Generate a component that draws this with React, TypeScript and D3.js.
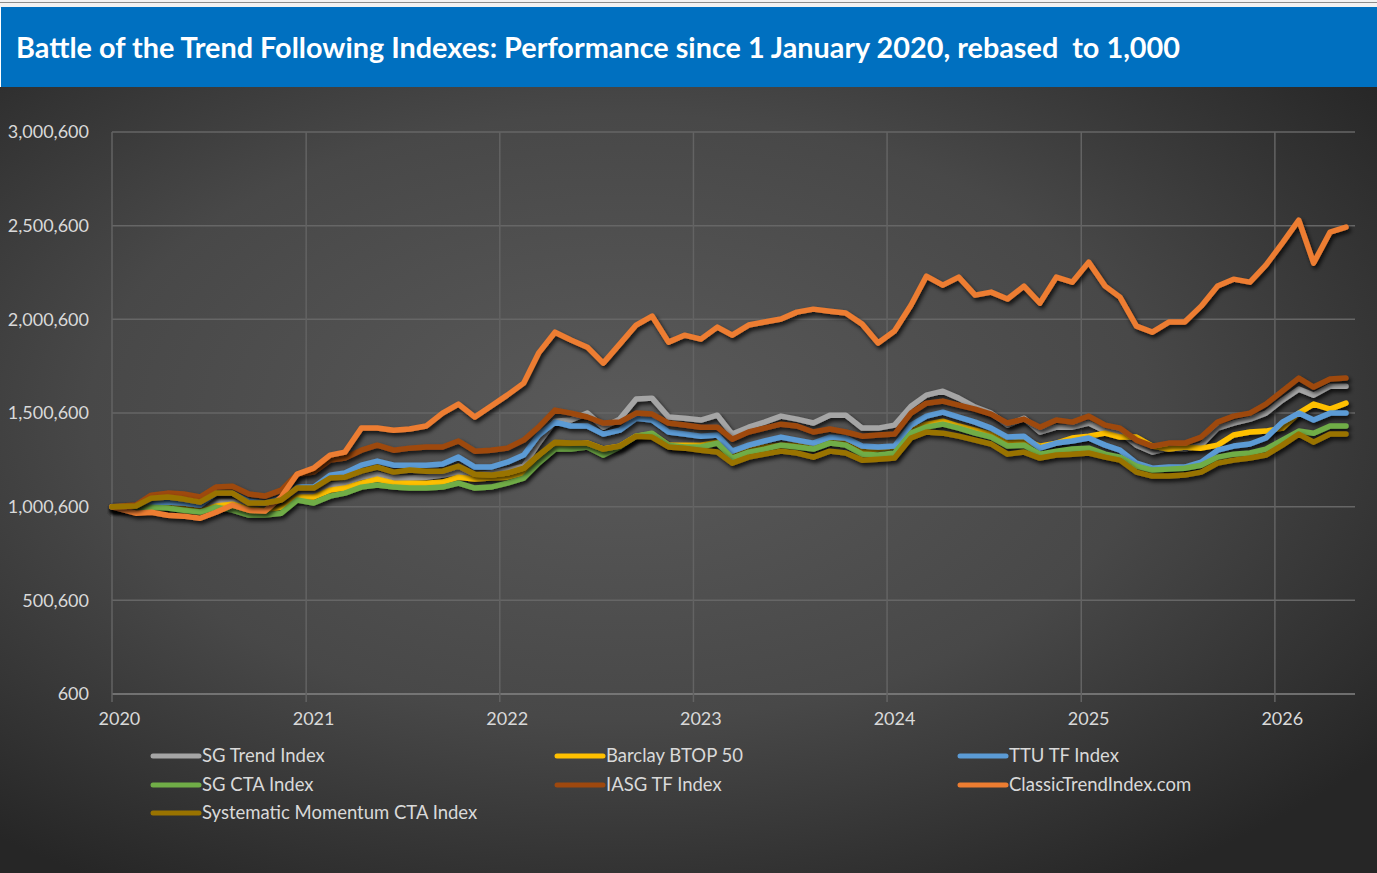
import * as d3 from 'd3';

// values in thousands (1,000 = start), monthly readings, Jan 2020 .. May 2026
const sgTrend = [1000, 1000, 1020, 1020, 1009, 1000, 1030, 1030, 1004, 1004, 1020, 1073, 1073, 1116, 1126, 1158, 1174, 1153,
  1153, 1158, 1169, 1185, 1169, 1180, 1196, 1217, 1340, 1457, 1463, 1500, 1425, 1468, 1575, 1580, 1479, 1473, 1463, 1489,
  1388, 1425, 1452, 1484, 1468, 1447, 1489, 1489, 1420, 1420, 1436, 1537, 1596, 1617, 1580, 1532, 1500, 1436, 1473, 1399,
  1425, 1425, 1447, 1404, 1399, 1329, 1292, 1313, 1308, 1329, 1420, 1447, 1468, 1500, 1569, 1628, 1596, 1644, 1644];
const barclay = [1000, 998, 998, 998, 993, 977, 1004, 1014, 988, 982, 998, 1052, 1052, 1089, 1100, 1126, 1148, 1126,
  1126, 1126, 1132, 1158, 1148, 1153, 1158, 1180, 1249, 1329, 1329, 1340, 1308, 1324, 1377, 1388, 1329, 1329, 1329, 1345,
  1276, 1308, 1319, 1329, 1329, 1319, 1356, 1356, 1302, 1308, 1319, 1409, 1441, 1457, 1431, 1409, 1388, 1340, 1356,
  1324, 1340, 1367, 1377, 1393, 1372, 1372, 1324, 1308, 1319, 1313, 1329, 1383, 1399, 1404, 1420, 1500, 1548, 1521, 1553];
const ttu = [1000, 1004, 1020, 1025, 1020, 1009, 1073, 1073, 1030, 1020, 1046, 1105, 1105, 1169, 1180, 1222, 1244, 1222,
  1222, 1222, 1228, 1265, 1212, 1212, 1238, 1276, 1383, 1452, 1431, 1431, 1388, 1409, 1473, 1463, 1399, 1388, 1377, 1383,
  1297, 1329, 1351, 1372, 1356, 1340, 1372, 1367, 1324, 1319, 1324, 1436, 1484, 1505, 1479, 1452, 1420, 1372, 1377,
  1313, 1340, 1351, 1367, 1329, 1302, 1233, 1206, 1212, 1212, 1238, 1302, 1324, 1335, 1367, 1452, 1500, 1463, 1500, 1500];
const sgCta = [1000, 993, 998, 993, 982, 972, 998, 982, 956, 956, 966, 1036, 1020, 1057, 1073, 1105, 1116, 1105,
  1100, 1100, 1105, 1126, 1100, 1105, 1126, 1153, 1233, 1308, 1308, 1319, 1276, 1319, 1377, 1393, 1329, 1319, 1319, 1340,
  1260, 1292, 1308, 1329, 1319, 1308, 1340, 1329, 1281, 1276, 1287, 1393, 1425, 1441, 1420, 1393, 1372, 1324, 1329,
  1281, 1297, 1308, 1313, 1281, 1265, 1217, 1196, 1201, 1206, 1222, 1265, 1281, 1287, 1308, 1356, 1404, 1393, 1431, 1431];
const iasg = [1000, 1009, 1062, 1073, 1068, 1052, 1105, 1110, 1068, 1057, 1089, 1174, 1185, 1249, 1260, 1302, 1329, 1302,
  1313, 1319, 1319, 1351, 1297, 1302, 1313, 1356, 1425, 1516, 1500, 1479, 1447, 1452, 1500, 1495, 1447, 1436, 1425, 1425,
  1361, 1399, 1420, 1441, 1431, 1399, 1415, 1399, 1377, 1383, 1388, 1500, 1553, 1564, 1543, 1521, 1495, 1447, 1468,
  1425, 1463, 1452, 1484, 1436, 1420, 1356, 1324, 1340, 1340, 1372, 1452, 1484, 1500, 1548, 1617, 1687, 1639, 1682, 1687];
const classic = [1000, 966, 971, 955, 950, 939, 971, 1009, 982, 977, 1052, 1174, 1206, 1276, 1292, 1420, 1420, 1409,
  1415, 1431, 1500, 1548, 1479, 1537, 1596, 1660, 1820, 1932, 1890, 1852, 1767, 1868, 1970, 2018, 1879, 1916, 1895, 1959,
  1916, 1970, 1986, 2002, 2039, 2055, 2044, 2034, 1975, 1874, 1938, 2076, 2231, 2183, 2226, 2130, 2146, 2109, 2178,
  2087, 2226, 2199, 2306, 2178, 2119, 1964, 1932, 1986, 1986, 2071, 2178, 2215, 2199, 2290, 2407, 2530, 2301, 2466, 2493];
const sysMomentum = [1000, 1004, 1046, 1052, 1041, 1025, 1073, 1073, 1020, 1020, 1036, 1100, 1100, 1153, 1158, 1190, 1212, 1185,
  1196, 1190, 1190, 1217, 1174, 1169, 1180, 1206, 1276, 1345, 1340, 1340, 1308, 1324, 1377, 1372, 1319, 1313, 1302, 1292,
  1233, 1265, 1281, 1297, 1287, 1265, 1297, 1287, 1249, 1254, 1260, 1367, 1399, 1393, 1377, 1356, 1335, 1281, 1292,
  1260, 1276, 1281, 1287, 1265, 1249, 1185, 1164, 1164, 1169, 1185, 1233, 1249, 1260, 1276, 1329, 1388, 1345, 1388, 1388];

const seriesNames = ['SG Trend Index', 'Barclay BTOP 50', 'TTU TF Index', 'SG CTA Index', 'IASG TF Index', 'ClassicTrendIndex.com', 'Systematic Momentum CTA Index'];
const seriesValues = [sgTrend, barclay, ttu, sgCta, iasg, classic, sysMomentum];
const seriesColors = ['#A5A5A5', '#FFC000', '#5B9BD5', '#70AD47', '#9E480E', '#ED7D31', '#997300'];

// y ticks in thousands (labels show the full number)
const yTicks = [0.6, 500.6, 1000.6, 1500.6, 2000.6, 2500.6, 3000.6];
const xTickYears = [2020, 2021, 2022, 2023, 2024, 2025, 2026];

const title = 'Battle of the Trend Following Indexes: Performance since 1 January 2020, rebased  to 1,000';

const W = 1377;
const H = 873;
const FONT = 'Lato, "Open Sans", sans-serif';

export default function App() {
  // first point is the rebase date, then one reading per month
  const dates = sgTrend.map((_, i) => (i === 0 ? new Date(2020, 0, 1) : new Date(2020, i, 15)));

  const x = d3.scaleTime()
    .domain([new Date(2020, 0, 1), new Date(2026, 5, 1)])
    .range([112, 1355]);
  const y = d3.scaleLinear()
    .domain([0.6, 3000.6])
    .range([694, 132]);

  const line = d3.line<number>()
    .x((_, i) => x(dates[i]))
    .y(d => y(d));

  const fmt = d3.format(',');

  // legend: 3 columns, filled row by row
  const legendCols = [153, 557, 960];
  const legendRows = [756, 785, 813];

  return (
    <svg width={W} height={H} style={{ position: 'absolute', left: 0, top: 0, display: 'block' }}>
      <defs>
        <radialGradient id="bg" cx="45%" cy="42%" r="70%">
          <stop offset="0%" stopColor="#5a5a5a" />
          <stop offset="55%" stopColor="#484848" />
          <stop offset="100%" stopColor="#262626" />
        </radialGradient>
        <filter id="shadow" x="-5%" y="-10%" width="110%" height="130%">
          <feDropShadow dx="2" dy="3" stdDeviation="2.2" floodColor="#000" floodOpacity="0.8" />
        </filter>
      </defs>

      {/* spreadsheet strip above the chart */}
      <rect x={0} y={0} width={W} height={8} fill="#f2f2f2" />
      <line x1={0} x2={W} y1={2.5} y2={2.5} stroke="#8c8c8c" strokeWidth={1} />

      {/* title bar */}
      <rect x={1} y={7} width={W - 1} height={80} fill="#0070C0" />
      <text x={16} y={58} fill="#fff" fontFamily={FONT} fontWeight={700} fontSize={28}
        textLength={1164} lengthAdjust="spacingAndGlyphs" style={{ whiteSpace: 'pre' }}>{title}</text>

      {/* chart area */}
      <rect x={0} y={87} width={W} height={H - 87} fill="url(#bg)" />

      {/* horizontal gridlines */}
      {yTicks.map(t => (
        <line key={'h' + t} x1={112} x2={1355} y1={y(t)} y2={y(t)}
          stroke={t === yTicks[0] ? '#858585' : '#666'} strokeWidth={1.5} />
      ))}
      {/* vertical gridlines at year starts */}
      {xTickYears.map(yr => (
        <line key={'v' + yr} x1={x(new Date(yr, 0, 1))} x2={x(new Date(yr, 0, 1))} y1={132} y2={702}
          stroke="#636363" strokeWidth={1.5} />
      ))}

      {/* y labels */}
      {yTicks.map(t => (
        <text key={'yl' + t} x={89} y={y(t)} dy="0.35em" textAnchor="end" fill="#d9d9d9"
          fontFamily={FONT} fontSize={18}>{fmt(Math.round(t * 1000))}</text>
      ))}
      {/* x labels */}
      {xTickYears.map(yr => (
        <text key={'xl' + yr} x={x(new Date(yr, 0, 15))} y={725} textAnchor="middle" fill="#d9d9d9"
          fontFamily={FONT} fontSize={18}>{yr}</text>
      ))}

      {/* series */}
      {seriesValues.map((vals, i) => (
        <path key={seriesNames[i]} d={line(vals) || ''} fill="none" stroke={seriesColors[i]}
          strokeWidth={5.5} strokeLinejoin="round" strokeLinecap="round" filter="url(#shadow)" />
      ))}

      {/* legend */}
      {seriesNames.map((name, i) => {
        const lx = legendCols[i % 3];
        const ly = legendRows[Math.floor(i / 3)];
        return (
          <g key={'lg' + name}>
            <line x1={lx} x2={lx + 46} y1={ly} y2={ly} stroke={seriesColors[i]} strokeWidth={5} strokeLinecap="round" />
            <text x={lx + 49} y={ly} dy="0.35em" fill="#d9d9d9" fontFamily={FONT} fontSize={18.5}>{name}</text>
          </g>
        );
      })}
    </svg>
  );
}
